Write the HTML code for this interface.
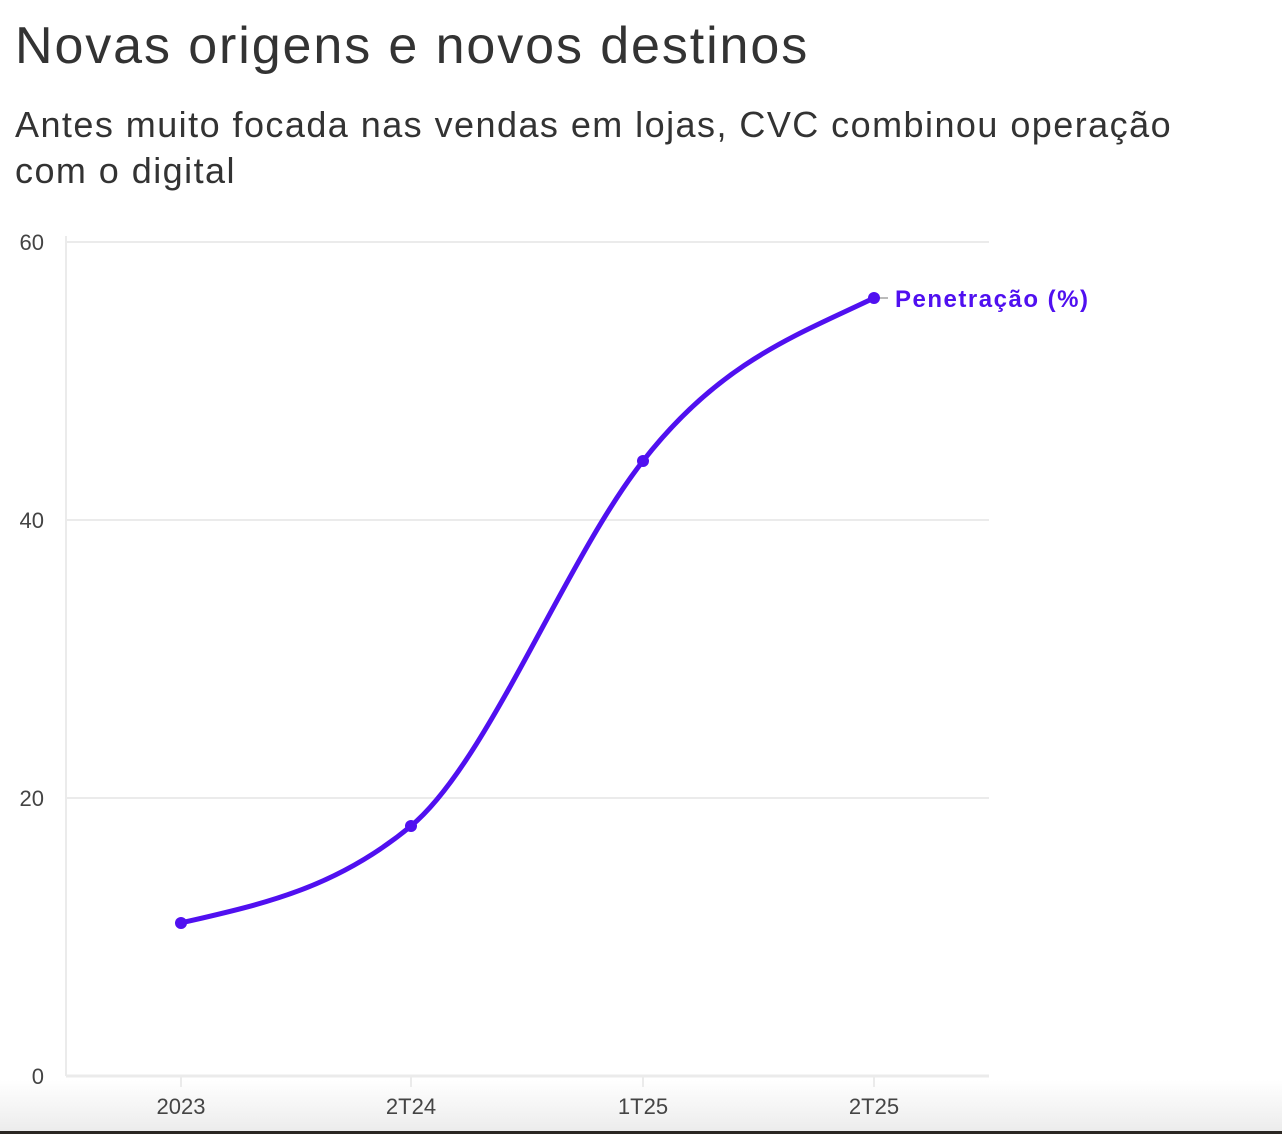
<!DOCTYPE html>
<html><head><meta charset="utf-8"><style>
html,body{margin:0;padding:0;width:1282px;height:1134px;overflow:hidden;background:#fff;font-family:"Liberation Sans",sans-serif;}
.t{position:absolute;left:15px;top:16px;font-size:52px;color:#333;font-weight:300;letter-spacing:1.9px}
.s{position:absolute;left:15px;top:102px;font-size:36px;color:#333;line-height:46px;width:1200px;letter-spacing:1.45px}
.bg{position:absolute;left:0;top:1080px;width:1282px;height:51px;background:linear-gradient(#fff,#ececec)}
.bar{position:absolute;left:0;top:1131px;width:1282px;height:3px;background:#2a2622}
</style></head><body>
<div class="bg"></div><div class="bar"></div>
<div class="t">Novas origens e novos destinos</div>
<div class="s">Antes muito focada nas vendas em lojas, CVC combinou operação com o digital</div>
<svg width="1282" height="1134" style="position:absolute;left:0;top:0">
<g stroke="#ebebeb" stroke-width="2">
<line x1="66" y1="242" x2="989" y2="242"/>
<line x1="66" y1="520" x2="989" y2="520"/>
<line x1="66" y1="798" x2="989" y2="798"/>
<line x1="66" y1="1076" x2="989" y2="1076" stroke-width="3"/>
<line x1="66" y1="236" x2="66" y2="1076"/>
<line x1="181" y1="1076" x2="181" y2="1087"/>
<line x1="411" y1="1076" x2="411" y2="1087"/>
<line x1="643" y1="1076" x2="643" y2="1087"/>
<line x1="874" y1="1076" x2="874" y2="1087"/>
</g>
<g font-size="22" fill="#444" text-anchor="end">
<text x="44" y="250">60</text><text x="44" y="528">40</text><text x="44" y="806">20</text><text x="44" y="1084">0</text>
</g>
<g font-size="22" fill="#444" text-anchor="middle">
<text x="181" y="1114">2023</text><text x="411" y="1114">2T24</text><text x="643" y="1114">1T25</text><text x="874" y="1114">2T25</text>
</g>
<line x1="874" y1="298" x2="888" y2="298" stroke="#bbb" stroke-width="2"/>
<path d="M181,923 C258,905 334,890 411,826 C488,762 565,560 643,461 C720,362 797,335 874,298" fill="none" stroke="#5010f0" stroke-width="5"/>
<g fill="#5010f0"><circle cx="181" cy="923" r="6"/><circle cx="411" cy="826" r="6"/><circle cx="643" cy="461" r="6"/><circle cx="874" cy="298" r="6"/></g>
<text x="895" y="307" font-size="24" font-weight="bold" fill="#5010f0" textLength="193">Penetração (%)</text>
</svg>
</body></html>
